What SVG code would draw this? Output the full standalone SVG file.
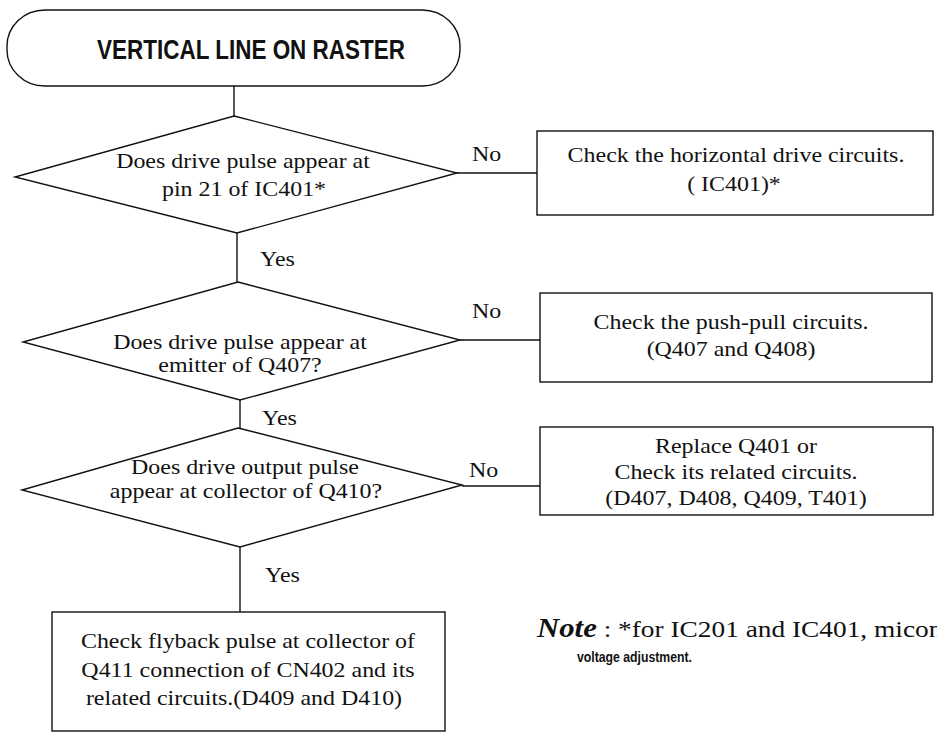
<svg xmlns="http://www.w3.org/2000/svg" width="937" height="734" viewBox="0 0 937 734">
  <style>
    .shape { fill: #fff; stroke: #111; stroke-width: 1.4; }
    .wire { fill: none; stroke: #111; stroke-width: 1.4; }
    .t { font-family: "Liberation Serif", "Times New Roman", serif; font-size: 21px; fill: #111; text-anchor: middle; }
    .lbl { font-family: "Liberation Serif", "Times New Roman", serif; font-size: 21px; fill: #111; }
    .title { font-family: "Liberation Sans", Arial, sans-serif; font-weight: bold; font-size: 27px; fill: #111; text-anchor: middle; }
    .note { font-family: "Liberation Serif", "Times New Roman", serif; font-size: 24px; fill: #111; }
    .noteb { font-weight: bold; font-style: italic; font-size: 27px; }
    .small { font-family: "Liberation Sans", Arial, sans-serif; font-weight: bold; font-size: 14px; fill: #111; }
  </style>
  <rect width="937" height="734" fill="#fff"/>

  <!-- connectors -->
  <g id="connectors">
    <path class="wire" d="M234 86 V116"/>
    <path class="wire" d="M237 233 V282"/>
    <path class="wire" d="M240 400 V428"/>
    <path class="wire" d="M240 547 V612"/>
    <path class="wire" d="M457 173 H537"/>
    <path class="wire" d="M460 340 H540"/>
    <path class="wire" d="M462 486 H540"/>
    <text class="lbl" transform="translate(260 266) scale(1.14 1)">Yes</text>
    <text class="lbl" transform="translate(262 425) scale(1.14 1)">Yes</text>
    <text class="lbl" transform="translate(265 582) scale(1.14 1)">Yes</text>
    <text class="lbl" transform="translate(472 161) scale(1.14 1)">No</text>
    <text class="lbl" transform="translate(472 318) scale(1.14 1)">No</text>
    <text class="lbl" transform="translate(469 477) scale(1.14 1)">No</text>
  </g>

  <!-- start terminal -->
  <g id="start">
    <rect class="shape" x="7" y="10" width="453" height="76" rx="38" ry="36"/>
    <text class="title" x="251" y="59" textLength="308" lengthAdjust="spacingAndGlyphs">VERTICAL LINE ON RASTER</text>
  </g>

  <!-- decision 1 -->
  <g id="q-ic401">
    <polygon class="shape" points="234,116 457,173 237,233 15,177"/>
    <text class="t" transform="translate(243 168) scale(1.14 1)">Does drive pulse appear at</text>
    <text class="t" transform="translate(244 196) scale(1.14 1)">pin 21 of IC401*</text>
  </g>

  <!-- action 1 -->
  <g id="chk-hdrive">
    <rect class="shape" x="537" y="131" width="396" height="84"/>
    <text class="t" transform="translate(736 162) scale(1.14 1)">Check the horizontal drive circuits.</text>
    <text class="t" transform="translate(734 191) scale(1.14 1)">( IC401)*</text>
  </g>

  <!-- decision 2 -->
  <g id="q-q407">
    <polygon class="shape" points="238,282 460,340 240,400 23,342"/>
    <text class="t" transform="translate(240 349) scale(1.14 1)">Does drive pulse appear at</text>
    <text class="t" transform="translate(240 372) scale(1.14 1)">emitter of Q407?</text>
  </g>

  <!-- action 2 -->
  <g id="chk-pushpull">
    <rect class="shape" x="540" y="293" width="392" height="89"/>
    <text class="t" transform="translate(731 329) scale(1.14 1)">Check the push-pull circuits.</text>
    <text class="t" transform="translate(731 356) scale(1.14 1)">(Q407 and Q408)</text>
  </g>

  <!-- decision 3 -->
  <g id="q-q410">
    <polygon class="shape" points="238,428 462,485 240,547 22,490"/>
    <text class="t" transform="translate(245 474) scale(1.14 1)">Does drive output pulse</text>
    <text class="t" transform="translate(246 498) scale(1.14 1)">appear at collector of Q410?</text>
  </g>

  <!-- action 3 -->
  <g id="chk-q401">
    <rect class="shape" x="540" y="427" width="393" height="88"/>
    <text class="t" transform="translate(736 453) scale(1.14 1)">Replace Q401 or</text>
    <text class="t" transform="translate(736 479) scale(1.14 1)">Check its related circuits.</text>
    <text class="t" transform="translate(736 505) scale(1.14 1)">(D407, D408, Q409, T401)</text>
  </g>

  <!-- final action -->
  <g id="chk-flyback">
    <rect class="shape" x="52" y="612" width="393" height="119"/>
    <text class="t" transform="translate(248 648) scale(1.14 1)">Check flyback pulse at collector of</text>
    <text class="t" transform="translate(248 677) scale(1.14 1)">Q411 connection of CN402 and its</text>
    <text class="t" transform="translate(244 705) scale(1.14 1)">related circuits.(D409 and D410)</text>
  </g>

  <!-- footnote -->
  <g id="note">
    <text class="note" transform="translate(537 637) scale(1.14 1)"><tspan class="noteb">Note</tspan> : *for IC201 and IC401, micon</text>
    <text class="small" x="577" y="662" textLength="115" lengthAdjust="spacingAndGlyphs">voltage adjustment.</text>
  </g>
</svg>
